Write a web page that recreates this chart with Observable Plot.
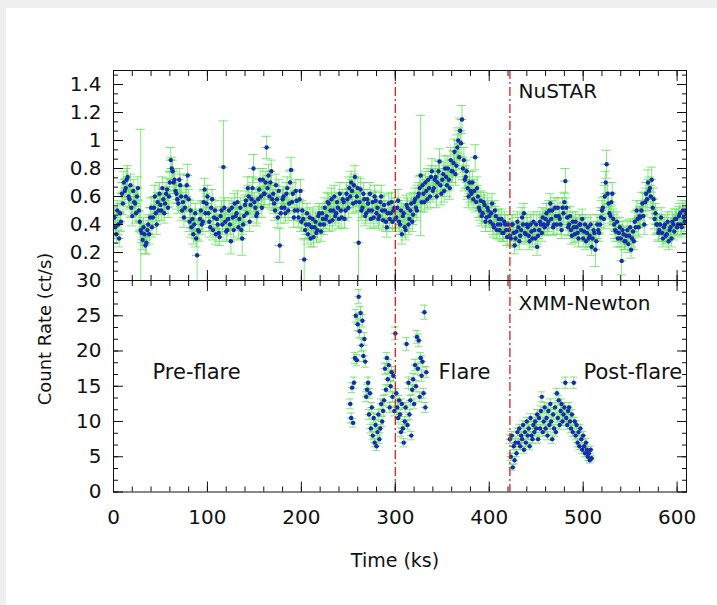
<!DOCTYPE html>
<html><head><meta charset="utf-8">
<script src="https://cdn.jsdelivr.net/npm/d3@7"></script>
<script src="https://cdn.jsdelivr.net/npm/@observablehq/plot@0.6"></script>
<style>
html,body{margin:0;padding:0;background:#f0f0f0;}
#page{position:relative;width:717px;height:605px;overflow:hidden;font-family:"DejaVu Sans",sans-serif;color:#111;}
#sheet{position:absolute;left:6px;top:8px;right:0;bottom:0;background:#fff;}
#topPanel{position:absolute;left:0;top:0;}
#botPanel{position:absolute;left:0;top:270px;}
.ttl{position:absolute;white-space:nowrap;font-size:19px;color:#111;}
</style></head><body>
<div id="page"><div id="sheet"></div><div id="topPanel"></div><div id="botPanel"></div>
<div class="ttl" style="left:44px;top:329px;font-size:18px;transform:translate(-50%,-50%) rotate(-90deg)">Count Rate (ct/s)</div>
<div class="ttl" style="left:395px;top:560px;transform:translate(-50%,-50%)">Time (ks)</div>
</div>
<script>
// ---- tick labels ----
const xTicks = [0, 100, 200, 300, 400, 500, 600];
const nustarTicks = [0.2, 0.4, 0.6, 0.8, 1, 1.2, 1.4];
const xmmTicks = [0, 5, 10, 15, 20, 25, 30];
const phaseBoundaries = [300, 422];
const panelNames = ["NuSTAR", "XMM-Newton"];
const phaseNames = ["Pre-flare", "Flare", "Post-flare"];

// ---- NuSTAR light curve, odd-ks bins (ks, ct/s, 1-sigma) ----
const nustarTime = [
1,3,5,7,9,11,13,15,17,19,
21,23,25,27,29,31,33,35,37,39,
41,43,45,47,49,51,53,55,57,59,
61,63,65,67,69,71,73,75,77,79,
81,83,85,87,89,91,93,95,97,99,
101,103,105,107,109,111,113,115,117,119,
121,123,125,127,129,131,133,135,137,139,
141,143,145,147,149,151,153,155,157,159,
161,163,165,167,169,171,173,175,177,179,
181,183,185,187,189,191,193,195,197,199,
201,203,205,207,209,211,213,215,217,219,
221,223,225,227,229,231,233,235,237,239,
241,243,245,247,249,251,253,255,257,259,
261,263,265,267,269,271,273,275,277,279,
281,283,285,287,289,291,293,295,297,299,
301,303,305,307,309,311,313,315,317,319,
321,323,325,327,329,331,333,335,337,339,
341,343,345,347,349,351,353,355,357,359,
361,363,365,367,369,371,373,375,377,379,
381,383,385,387,389,391,393,395,397,399,
401,403,405,407,409,411,413,415,417,419,
421,423,425,427,429,431,433,435,437,439,
441,443,445,447,449,451,453,455,457,459,
461,463,465,467,469,471,473,475,477,479,
481,483,485,487,489,491,493,495,497,499,
501,503,505,507,509,511,513,515,517,519,
521,523,525,527,529,531,533,535,537,539,
541,543,545,547,549,551,553,555,557,559,
561,563,565,567,569,571,573,575,577,579,
581,583,585,587,589,591,593,595,597,599,
601,603,605,607,609];
const nustarRate = [
0.45,0.33,0.40,0.48,0.62,0.70,0.66,0.74,0.58,0.52,
0.64,0.55,0.60,0.50,0.36,0.29,0.33,0.27,0.40,0.45,
0.38,0.52,0.48,0.56,0.62,0.50,0.58,0.55,0.65,0.60,
0.86,0.78,0.72,0.62,0.55,0.68,0.50,0.45,0.60,0.75,
0.42,0.38,0.33,0.48,0.18,0.35,0.50,0.42,0.65,0.55,
0.48,0.38,0.58,0.45,0.33,0.40,0.31,0.50,0.81,0.42,
0.36,0.50,0.28,0.45,0.55,0.48,0.38,0.52,0.30,0.46,
0.57,0.66,0.42,0.58,0.80,0.52,0.48,0.65,0.60,0.72,
0.62,0.95,0.75,0.70,0.58,0.55,0.68,0.45,0.25,0.52,
0.60,0.48,0.66,0.55,0.79,0.62,0.50,0.57,0.45,0.64,
0.50,0.15,0.40,0.33,0.45,0.38,0.31,0.42,0.36,0.48,
0.35,0.44,0.52,0.46,0.55,0.50,0.43,0.60,0.48,0.52,
0.62,0.45,0.56,0.50,0.58,0.66,0.70,0.55,0.74,0.60,
0.27,0.65,0.52,0.58,0.48,0.55,0.62,0.50,0.45,0.57,
0.52,0.46,0.60,0.43,0.50,0.38,0.55,0.48,0.42,0.52,
0.45,0.57,0.40,0.33,0.48,0.36,0.52,0.44,0.55,0.47,
0.58,0.50,0.62,0.75,0.68,0.56,0.64,0.72,0.60,0.78,
0.66,0.74,0.70,0.85,0.62,0.76,0.80,0.68,0.72,0.86,
0.78,0.92,0.82,1.00,1.07,1.15,0.86,0.74,0.66,0.70,
0.62,0.58,0.88,0.66,0.52,0.57,0.48,0.54,0.45,0.50,
0.42,0.55,0.38,0.46,0.40,0.36,0.44,0.34,0.40,0.31,
0.36,0.30,0.40,0.25,0.35,0.38,0.32,0.45,0.48,0.33,
0.38,0.28,0.35,0.42,0.30,0.24,0.36,0.40,0.45,0.38,
0.48,0.42,0.55,0.50,0.40,0.46,0.52,0.44,0.36,0.48,
0.71,0.45,0.40,0.36,0.42,0.33,0.38,0.30,0.40,0.44,
0.35,0.28,0.38,0.32,0.24,0.36,0.22,0.40,0.34,0.45,
0.52,0.60,0.83,0.55,0.46,0.62,0.40,0.35,0.30,0.38,
0.14,0.33,0.28,0.36,0.32,0.22,0.35,0.42,0.50,0.38,
0.45,0.55,0.40,0.62,0.70,0.66,0.72,0.58,0.48,0.40,
0.36,0.45,0.30,0.40,0.33,0.28,0.38,0.42,0.35,0.44,
0.40,0.48,0.38,0.45,0.50];
const nustarErr = [
.07,.06,.07,.07,.08,.08,.07,.08,.07,.07,
.08,.07,.07,.07,.72,.07,.07,.08,.07,.07,
.07,.07,.06,.07,.08,.07,.07,.07,.08,.07,
.09,.08,.08,.07,.07,.08,.07,.07,.07,.08,
.07,.07,.07,.07,.18,.07,.07,.07,.08,.07,
.07,.07,.07,.07,.07,.07,.06,.07,.33,.07,
.07,.07,.09,.07,.07,.07,.07,.07,.12,.07,
.07,.08,.07,.07,.10,.07,.07,.08,.07,.08,
.08,.08,.08,.08,.07,.07,.08,.07,.12,.07,
.07,.07,.08,.07,.09,.08,.07,.07,.07,.08,
.07,.15,.07,.07,.07,.07,.07,.07,.07,.07,
.07,.07,.07,.07,.07,.07,.07,.08,.07,.07,
.08,.07,.07,.07,.07,.08,.08,.07,.08,.07,
.27,.08,.07,.07,.07,.07,.08,.07,.07,.07,
.07,.07,.08,.07,.07,.07,.07,.07,.07,.07,
.07,.08,.07,.07,.07,.07,.07,.07,.07,.07,
.08,.07,.08,.43,.08,.07,.08,.08,.08,.09,
.08,.08,.08,.09,.08,.08,.09,.08,.08,.09,
.08,.09,.08,.09,.09,.10,.09,.08,.08,.08,
.08,.07,.09,.08,.07,.07,.07,.07,.07,.07,
.07,.07,.07,.07,.07,.07,.07,.06,.07,.06,
.06,.06,.07,.06,.06,.07,.06,.07,.07,.06,
.07,.06,.06,.07,.06,.06,.06,.07,.07,.06,
.07,.07,.07,.07,.07,.07,.07,.07,.06,.07,
.09,.07,.07,.06,.07,.06,.07,.06,.07,.07,
.06,.06,.07,.06,.06,.06,.12,.07,.06,.07,
.07,.08,.10,.08,.07,.08,.07,.07,.06,.07,
.10,.06,.06,.07,.06,.06,.07,.07,.07,.07,
.07,.08,.07,.08,.09,.08,.09,.08,.07,.07,
.07,.07,.06,.07,.06,.06,.07,.07,.06,.07,
.07,.07,.07,.07,.07];

// ---- NuSTAR light curve, even-ks bins ----
const nustarTimeEven = [
2,4,6,8,10,12,14,16,18,20,
22,24,26,28,30,32,34,36,38,40,
42,44,46,48,50,52,54,56,58,60,
62,64,66,68,70,72,74,76,78,80,
82,84,86,88,90,92,94,96,98,100,
102,104,106,108,110,112,114,116,118,120,
122,124,126,128,130,132,134,136,138,140,
142,144,146,148,150,152,154,156,158,160,
162,164,166,168,170,172,174,176,178,180,
182,184,186,188,190,192,194,196,198,200,
202,204,206,208,210,212,214,216,218,220,
222,224,226,228,230,232,234,236,238,240,
242,244,246,248,250,252,254,256,258,260,
262,264,266,268,270,272,274,276,278,280,
282,284,286,288,290,292,294,296,298,300,
302,304,306,308,310,312,314,316,318,320,
322,324,326,328,330,332,334,336,338,340,
342,344,346,348,350,352,354,356,358,360,
362,364,366,368,370,372,374,376,378,380,
382,384,386,388,390,392,394,396,398,400,
402,404,406,408,410,412,414,416,418,420,
422,424,426,428,430,432,434,436,438,440,
442,444,446,448,450,452,454,456,458,460,
462,464,466,468,470,472,474,476,478,480,
482,484,486,488,490,492,494,496,498,500,
502,504,506,508,510,512,514,516,518,520,
522,524,526,528,530,532,534,536,538,540,
542,544,546,548,550,552,554,556,558,560,
562,564,566,568,570,572,574,576,578,580,
582,584,586,588,590,592,594,596,598,600,
602,604,606,608,610];
const nustarRateEven = [
0.38,0.50,0.30,0.42,0.55,0.64,0.72,0.60,0.68,0.46,
0.56,0.48,0.66,0.42,0.34,0.38,0.25,0.36,0.33,0.52,
0.45,0.60,0.40,0.50,0.54,0.66,0.48,0.62,0.52,0.70,
0.80,0.70,0.64,0.58,0.72,0.60,0.56,0.52,0.68,0.58,
0.50,0.44,0.40,0.30,0.36,0.44,0.40,0.56,0.48,0.60,
0.42,0.52,0.36,0.50,0.44,0.34,0.46,0.40,0.52,0.35,
0.44,0.40,0.52,0.36,0.46,0.56,0.44,0.36,0.40,0.54,
0.48,0.60,0.54,0.66,0.56,0.46,0.58,0.72,0.52,0.62,
0.70,0.66,0.60,0.78,0.62,0.50,0.58,0.64,0.48,0.58,
0.52,0.62,0.50,0.70,0.56,0.45,0.64,0.50,0.58,0.42,
0.44,0.36,0.48,0.40,0.30,0.44,0.38,0.34,0.46,0.40,
0.48,0.40,0.44,0.56,0.42,0.58,0.50,0.46,0.56,0.44,
0.50,0.58,0.44,0.62,0.52,0.60,0.64,0.68,0.56,0.66,
0.56,0.50,0.62,0.46,0.58,0.50,0.44,0.56,0.60,0.48,
0.44,0.56,0.50,0.54,0.42,0.48,0.44,0.56,0.50,0.44,
0.52,0.42,0.50,0.46,0.38,0.54,0.40,0.50,0.42,0.56,
0.52,0.60,0.66,0.56,0.62,0.70,0.58,0.66,0.74,0.64,
0.72,0.60,0.78,0.68,0.72,0.64,0.74,0.80,0.66,0.78,
0.84,0.76,0.95,0.88,0.98,0.80,0.72,0.78,0.60,0.64,
0.70,0.64,0.56,0.60,0.50,0.46,0.56,0.42,0.52,0.46,
0.48,0.40,0.50,0.36,0.44,0.40,0.34,0.42,0.36,0.40,
0.32,0.40,0.34,0.30,0.42,0.28,0.36,0.40,0.34,0.40,
0.32,0.40,0.30,0.36,0.40,0.32,0.42,0.34,0.40,0.44,
0.40,0.50,0.44,0.38,0.52,0.40,0.46,0.40,0.52,0.56,
0.52,0.38,0.46,0.32,0.38,0.42,0.34,0.40,0.36,0.30,
0.40,0.34,0.30,0.40,0.30,0.34,0.28,0.36,0.40,0.50,
0.44,0.70,0.62,0.48,0.56,0.44,0.36,0.42,0.34,0.30,
0.36,0.28,0.32,0.26,0.38,0.30,0.28,0.38,0.44,0.46,
0.50,0.46,0.56,0.58,0.64,0.60,0.52,0.44,0.40,0.34,
0.40,0.34,0.38,0.32,0.42,0.36,0.30,0.40,0.44,0.38,
0.46,0.40,0.50,0.42,0.48];
const nustarErrEven = [
.07,.07,.06,.07,.08,.08,.08,.07,.08,.07,
.07,.07,.08,.07,.07,.07,.06,.07,.07,.07,
.07,.08,.07,.07,.07,.08,.07,.08,.07,.08,
.08,.08,.08,.07,.08,.07,.07,.07,.08,.07,
.07,.07,.07,.06,.07,.07,.07,.08,.07,.08,
.07,.07,.07,.07,.07,.06,.07,.07,.07,.07,
.07,.07,.07,.07,.07,.08,.07,.07,.07,.07,
.07,.08,.07,.08,.07,.07,.08,.08,.07,.08,
.08,.08,.08,.08,.08,.07,.07,.08,.07,.07,
.07,.08,.07,.08,.07,.07,.08,.07,.07,.07,
.07,.07,.07,.07,.06,.07,.07,.07,.07,.07,
.07,.07,.07,.07,.07,.08,.07,.07,.07,.07,
.07,.07,.07,.08,.07,.08,.08,.08,.07,.08,
.07,.07,.08,.07,.07,.07,.07,.07,.08,.07,
.07,.07,.07,.07,.07,.07,.07,.07,.07,.07,
.07,.07,.07,.07,.07,.07,.07,.07,.07,.07,
.07,.08,.08,.07,.08,.08,.07,.08,.08,.08,
.08,.08,.08,.08,.08,.08,.08,.09,.08,.08,
.09,.08,.09,.09,.09,.08,.08,.08,.08,.08,
.08,.08,.07,.08,.07,.07,.07,.07,.07,.07,
.07,.07,.07,.06,.07,.07,.06,.07,.06,.07,
.06,.07,.06,.06,.07,.06,.06,.07,.06,.07,
.06,.07,.06,.06,.07,.06,.07,.06,.07,.07,
.07,.07,.07,.06,.07,.07,.07,.07,.07,.07,
.07,.06,.07,.06,.06,.07,.06,.07,.06,.06,
.07,.06,.06,.07,.06,.06,.06,.06,.07,.07,
.07,.08,.08,.07,.07,.07,.06,.07,.06,.06,
.06,.06,.06,.06,.06,.06,.06,.06,.07,.07,
.07,.07,.07,.08,.08,.08,.07,.07,.07,.06,
.07,.06,.06,.06,.07,.06,.06,.07,.07,.06,
.07,.07,.07,.07,.07];
const nustarBinHalf = 5;

// ---- XMM-Newton light curve (ks, ct/s, 1-sigma) ----
const xmmTime = [
252,253,254,255,256,257,258,259,260,261,
262,263,264,265,266,267,268,269,270,271,
272,273,274,275,276,277,278,279,280,281,
282,283,284,285,286,287,288,289,290,291,
292,293,294,295,296,297,298,299,300,301,
302,303,304,305,306,307,308,309,310,311,
312,313,314,315,316,317,318,319,320,321,
322,323,324,325,326,327,328,329,330,331,
332,333,
422,423,424,425,426,427,428,429,430,431,
432,433,434,435,436,437,438,439,440,441,
442,443,444,445,446,447,448,449,450,451,
452,453,454,455,456,457,458,459,460,461,
462,463,464,465,466,467,468,469,470,471,
472,473,474,475,476,477,478,479,480,481,
482,483,484,485,486,487,488,489,490,491,
492,493,494,495,496,497,498,499,500,501,
502,503,504,505,506,507,508,509];
const xmmRate = [
12.5,10.5,14.8,9.8,15.5,19.0,25.0,18.7,23.8,27.7,
22.8,25.4,20.8,24.3,19.3,21.7,18.5,13.5,14.5,15.5,
11.0,14.0,9.0,12.0,8.0,10.5,7.0,9.5,6.5,8.5,
11.0,7.5,9.0,12.5,10.0,11.5,13.0,17.5,14.5,19.0,
16.0,18.0,12.0,15.0,17.0,13.5,16.5,11.5,22.5,14.0,
12.0,10.5,13.0,11.0,8.5,12.5,9.0,7.0,10.0,12.0,
21.0,9.5,15.5,11.0,13.0,8.0,14.5,16.0,12.5,18.0,
15.0,22.0,17.5,21.5,13.5,19.0,16.5,18.5,14.0,25.5,
12.0,17.0,
7.5,5.0,8.0,3.5,6.5,4.5,7.0,5.5,8.5,7.0,
9.0,6.5,8.0,7.5,9.5,6.0,8.5,7.0,10.0,8.0,
9.0,6.5,10.5,8.0,7.5,9.5,8.5,10.0,9.0,11.0,
7.5,10.5,9.0,11.5,13.5,8.5,10.0,12.0,9.0,10.5,
8.0,11.5,9.5,12.5,10.0,7.5,11.0,9.0,12.0,8.5,
14.0,10.5,13.0,9.5,11.5,12.5,10.0,11.0,12.0,15.5,
10.5,9.5,11.5,12.0,10.0,9.0,11.0,8.5,15.5,10.0,
8.0,9.5,7.0,8.5,6.5,9.0,7.5,6.0,8.0,6.5,
5.5,7.0,6.0,5.0,5.5,4.5,6.0,4.8];
const xmmErr = [
.7,.7,.7,.6,.8,.8,.9,.8,.9,1.0,
.9,.9,.9,.9,.8,.9,.8,.7,.7,.8,
.7,.7,.6,.7,.6,.7,.6,.6,.6,.6,
.7,.6,.6,.7,.7,.7,.7,.8,.7,.8,
.8,.8,.7,.8,.8,.7,.8,.7,.9,.7,
.7,.7,.7,.7,.6,.7,.6,.6,.7,.7,
.9,.6,.8,.7,.7,.6,.7,.8,.7,.8,
.8,.9,.8,.9,.7,.8,.8,.8,.7,1.0,
.7,.8,
.6,.5,.6,.4,.5,.5,.6,.5,.6,.6,
.6,.5,.6,.6,.6,.5,.6,.6,.6,.6,
.6,.5,.6,.6,.6,.6,.6,.6,.6,.7,
.6,.6,.6,.7,.7,.6,.6,.7,.6,.6,
.6,.7,.6,.7,.6,.6,.7,.6,.7,.6,
.7,.6,.7,.6,.7,.7,.6,.7,.7,.8,
.6,.6,.7,.7,.6,.6,.7,.6,.8,.6,
.6,.6,.6,.6,.5,.6,.6,.5,.6,.5,
.5,.6,.5,.5,.5,.4,.5,.4];
const xmmBinHalf = 4;

// ---- build tables ----
const nustar = [
  ...nustarTime.map((t, i) => ({t, v: nustarRate[i], e: nustarErr[i]})),
  ...nustarTimeEven.map((t, i) => ({t, v: nustarRateEven[i], e: nustarErrEven[i]}))
];
const xmm = xmmTime.map((t, i) => ({t, v: xmmRate[i], e: xmmErr[i]}));

// ---- styling ----
const GREEN = "#62e25a";
const BLUE = "#1a2ab0";
const RED = "#dd1f1f";
const INK = "#111";
const blank = () => "";
const xMinor = d3.range(0, 611, 20);
const nuMinor = d3.range(0, 1.5001, 0.2 / 3);
const xmmMinor = d3.range(0, 30.001, 5 / 3);

function frameTicks(yMaj, yMin) {
  const o = {tickFormat: blank, label: null, stroke: INK};
  return [
    Plot.axisY({...o, ticks: yMaj, anchor: "left", tickSize: -10}),
    Plot.axisY({...o, ticks: yMin, anchor: "left", tickSize: -5}),
    Plot.axisY({...o, ticks: yMaj, anchor: "right", tickSize: -10}),
    Plot.axisY({...o, ticks: yMin, anchor: "right", tickSize: -5}),
    Plot.axisX({...o, ticks: xTicks, anchor: "top", tickSize: -10}),
    Plot.axisX({...o, ticks: xMinor, anchor: "top", tickSize: -5}),
    Plot.axisX({...o, ticks: xTicks, anchor: "bottom", tickSize: -10}),
    Plot.axisX({...o, ticks: xMinor, anchor: "bottom", tickSize: -5})
  ];
}

function errorMarks(data, h) {
  const s = {stroke: GREEN, strokeWidth: 1, clip: true};
  return [
    Plot.ruleX(data, {...s, x: "t", y1: d => d.v - d.e, y2: d => d.v + d.e, strokeOpacity: 0.8}),
    Plot.ruleY(data, {...s, y: d => d.v + d.e, x1: d => d.t - h, x2: d => d.t + h, strokeOpacity: 0.8}),
    Plot.ruleY(data, {...s, y: d => d.v - d.e, x1: d => d.t - h, x2: d => d.t + h, strokeOpacity: 0.8}),
    Plot.ruleY(data, {...s, y: "v", x1: d => d.t - h, x2: d => d.t + h}),
    Plot.dot(data, {x: "t", y: "v", r: 2.2, fill: BLUE, stroke: "none", clip: true})
  ];
}

const style = {fontFamily: "DejaVu Sans, sans-serif", fontSize: "20px", background: "transparent", color: INK, overflow: "visible"};
const label = (txt, dx, dy, size) => Plot.text([txt], {text: d => d, frameAnchor: "top-left", dx, dy, textAnchor: "start", lineAnchor: "middle", fontSize: size, fill: INK});
const boundaries = () => Plot.ruleX(phaseBoundaries, {stroke: RED, strokeWidth: 1.3, strokeDasharray: "9,3,2,3"});

const topChart = Plot.plot({
  width: 717, height: 290,
  marginLeft: 113, marginRight: 31, marginTop: 70, marginBottom: 10,
  x: {domain: [0, 610]},
  y: {domain: [0, 1.5]},
  style,
  marks: [
    ...errorMarks(nustar, nustarBinHalf),
    boundaries(),
    Plot.frame({stroke: INK}),
    ...frameTicks(nustarTicks, nuMinor),
    Plot.axisY({ticks: nustarTicks, anchor: "left", tickSize: 0, tickPadding: 12, tickFormat: d3.format("~g"), label: null}),
    label(panelNames[0], 405, 21, 20)
  ]
});

const botChart = Plot.plot({
  width: 717, height: 335,
  marginLeft: 113, marginRight: 31, marginTop: 10, marginBottom: 113.5,
  x: {domain: [0, 610]},
  y: {domain: [0, 30]},
  style,
  marks: [
    ...errorMarks(xmm, xmmBinHalf),
    boundaries(),
    Plot.frame({stroke: INK}),
    ...frameTicks(xmmTicks, xmmMinor),
    Plot.axisY({ticks: xmmTicks, anchor: "left", tickSize: 0, tickPadding: 12, tickFormat: d3.format("d"), label: null}),
    Plot.axisX({ticks: xTicks, anchor: "bottom", tickSize: 0, tickPadding: 18, tickFormat: d3.format("d"), label: null}),
    label(panelNames[1], 405, 23, 20),
    label(phaseNames[0], 39, 92, 21),
    label(phaseNames[1], 325, 92, 21),
    label(phaseNames[2], 470, 92, 21)
  ]
});

document.getElementById("topPanel").appendChild(topChart);
document.getElementById("botPanel").appendChild(botChart);
</script>
</body></html>
